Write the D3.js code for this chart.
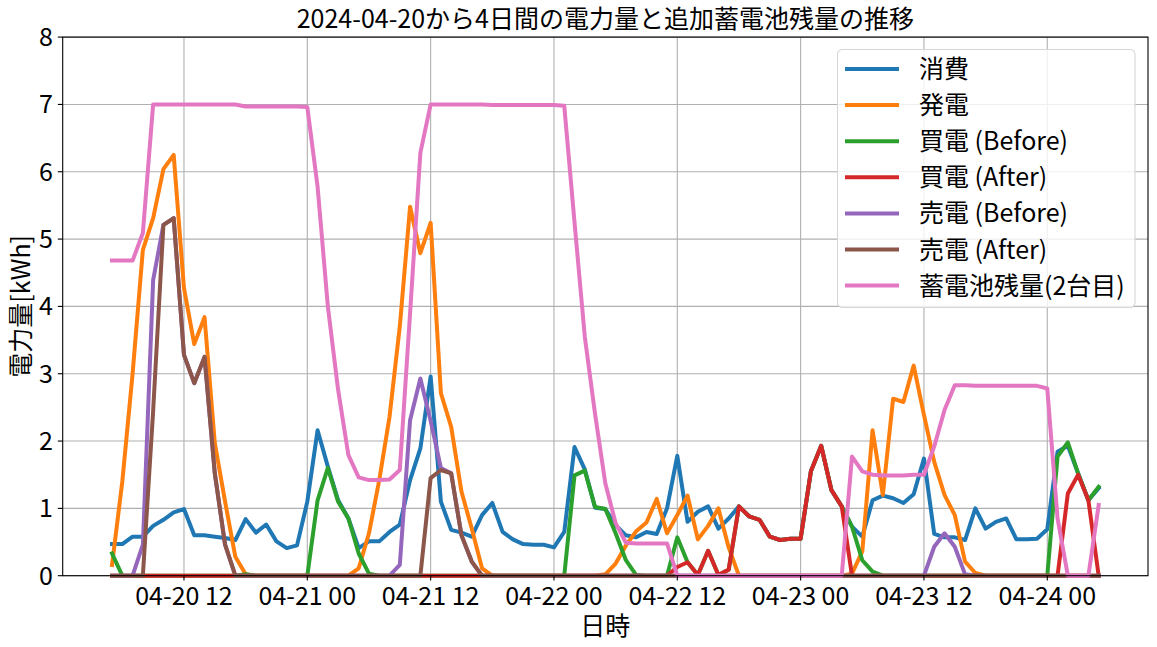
<!DOCTYPE html>
<html>
<head>
<meta charset="utf-8">
<script src="https://cdn.jsdelivr.net/npm/d3@7"></script>
<style>
  html, body { margin: 0; padding: 0; background: #ffffff; }
  svg { display: block; }
  text { font-family: "Noto Sans CJK JP", "Noto Sans", sans-serif; fill: #000; }
</style>
</head>
<body>
<svg id="chart" width="1157" height="647"></svg>
<script>
// ---- data (hourly, starting 2024-04-20 05:00) ----
const startTime = "2024-04-20T05:00:00Z";
const consumption = [
  0.47,0.47,0.58,0.58,0.74,0.83,0.94,0.99,0.60,0.60,
  0.58,0.56,0.53,0.84,0.64,0.76,0.51,0.41,0.45,1.10,
  2.16,1.62,1.12,0.85,0.41,0.51,0.51,0.65,0.76,1.42,
  1.89,2.96,1.10,0.68,0.64,0.58,0.90,1.08,0.65,0.54,
  0.47,0.46,0.46,0.42,0.65,1.91,1.58,1.01,0.99,0.75,
  0.60,0.57,0.65,0.62,1.00,1.78,0.80,0.95,1.03,0.70,
  0.85,1.03,0.88,0.83,0.58,0.53,0.55,0.55,1.55,1.93,
  1.27,1.03,0.73,0.58,1.12,1.19,1.15,1.08,1.21,1.74,
  0.62,0.57,0.57,0.53,1.00,0.70,0.80,0.85,0.54,0.54,
  0.55,0.69,1.84,1.93,1.52,1.12,1.30];
const generation = [
  0.16,1.40,3.00,4.84,5.31,6.04,6.25,4.27,3.44,3.84,
  1.97,1.10,0.28,0.02,0,0,0,0,0,0,
  0,0,0,0,0.11,0.63,1.42,2.36,3.70,5.48,
  4.79,5.24,2.71,2.21,1.25,0.70,0.11,0,0,0,
  0,0,0,0,0,0,0,0,0.02,0.18,
  0.45,0.66,0.79,1.14,0.63,0.90,1.19,0.54,0.74,1.00,
  0.42,0,0,0,0,0,0,0,0,0,
  0,0,0.03,0.36,2.16,1.20,2.63,2.58,3.12,2.39,
  1.69,1.20,0.90,0.21,0.04,0,0,0,0,0,
  0,0,0,0,0,0,0];
const buyBefore = [
  0.33,0,0,0,0,0,0,0,0,0,
  0,0,0,0.02,0,0,0,0,0,0,
  1.12,1.60,1.10,0.85,0.33,0.03,0,0,0,0,
  0,0,0,0,0,0,0,0,0,0,
  0,0,0,0,0,1.49,1.56,1.02,0.99,0.63,
  0.23,0.01,0,0,0,0.57,0.20,0.01,0.37,0.01,
  0.09,1.03,0.88,0.83,0.58,0.53,0.55,0.55,1.55,1.93,
  1.27,1.03,0.73,0.23,0.06,0,0,0,0,0,
  0,0,0,0,0,0,0,0,0,0,
  0,0,1.77,1.98,1.52,1.12,1.32];
const buyAfter = [
  0,0,0,0,0,0,0,0,0,0,
  0,0,0,0,0,0,0,0,0,0,
  0,0,0,0,0,0,0,0,0,0,
  0,0,0,0,0,0,0,0,0,0,
  0,0,0,0,0,0,0,0,0,0,
  0,0,0,0,0,0.13,0.20,0.01,0.37,0.01,
  0.09,1.03,0.88,0.83,0.58,0.53,0.55,0.55,1.55,1.93,
  1.27,1.03,0,0,0,0,0,0,0,0,
  0,0,0,0,0,0,0,0,0,0,
  0,0,0,1.22,1.50,1.12,0];
const sellBefore = [
  0,0,0,0.46,4.39,5.21,5.31,3.28,2.86,3.25,
  1.52,0.46,0,0,0,0,0,0,0,0,
  0,0,0,0,0,0,0,0,0.16,2.31,
  2.93,2.30,1.60,1.52,0.60,0.21,0,0,0,0,
  0,0,0,0,0,0,0,0,0,0,
  0,0,0,0,0,0,0,0,0,0,
  0,0,0,0,0,0,0,0,0,0,
  0,0,0,0,0,0,0,0,0,0,
  0.43,0.63,0.43,0.02,0,0,0,0,0,0,
  0,0,0,0,0,0,0];
const sellAfter = [
  0,0,0,0,2.45,5.21,5.31,3.28,2.86,3.25,
  1.52,0.46,0,0,0,0,0,0,0,0,
  0,0,0,0,0,0,0,0,0,0,
  0,1.45,1.57,1.52,0.60,0.21,0,0,0,0,
  0,0,0,0,0,0,0,0,0,0,
  0,0,0,0,0,0,0,0,0,0,
  0,0,0,0,0,0,0,0,0,0,
  0,0,0,0,0,0,0,0,0,0,
  0,0,0,0,0,0,0,0,0,0,
  0,0,0,0,0,0,0];
const battery = [
  4.68,4.68,4.68,5.09,7.00,7.00,7.00,7.00,7.00,7.00,
  7.00,7.00,7.00,6.97,6.97,6.97,6.97,6.97,6.97,6.96,
  5.78,4.00,2.76,1.79,1.46,1.42,1.42,1.43,1.57,3.90,
  6.28,7.00,7.00,7.00,7.00,7.00,7.00,6.99,6.99,6.99,
  6.99,6.99,6.99,6.99,6.98,5.25,3.55,2.40,1.37,0.78,
  0.49,0.48,0.48,0.48,0.48,0,0,0,0,0,
  0,0,0,0,0,0,0,0,0,0,
  0,0,1.77,1.55,1.50,1.49,1.49,1.49,1.50,1.50,
  1.92,2.46,2.83,2.83,2.82,2.82,2.82,2.82,2.82,2.82,
  2.82,2.78,0.85,0,0,0,1.05];

const seriesNames = ["消費","発電","買電 (Before)","買電 (After)","売電 (Before)","売電 (After)","蓄電池残量(2台目)"];
const seriesValues = [consumption, generation, buyBefore, buyAfter, sellBefore, sellAfter, battery];
const seriesColors = ["#1f77b4","#ff7f0e","#2ca02c","#d62728","#9467bd","#8c564b","#e377c2"];
const yTicks = [0,1,2,3,4,5,6,7,8];
const titleText = "2024-04-20から4日間の電力量と追加蓄電池残量の推移";
const xLabel = "日時";
const yLabel = "電力量[kWh]";

(function draw() {
  const pL = 62.7, pR = 1148, pT = 37.1, pB = 575.7;
  const lw = 4;
  const svg = d3.select("#chart");
  svg.append("rect").attr("width",1157).attr("height",647).attr("fill","#fff");

  const t0 = new Date(startTime);
  const times = consumption.map((_, i) => d3.utcHour.offset(t0, i));
  const tN = times[times.length - 1];
  const span = tN - t0;
  const x = d3.scaleUtc()
    .domain([new Date(+t0 - span * 0.05), new Date(+tN + span * 0.05)])
    .range([pL, pR]);
  const y = d3.scaleLinear().domain([0, 8]).range([pB, pT]);

  const xTicks = d3.utcHour.every(12).range(x.domain()[0], x.domain()[1]);
  const fmt = d3.utcFormat("%m-%d %H");

  // grid
  const grid = svg.append("g");
  grid.selectAll(".gx").data(xTicks).enter().append("line")
    .attr("x1", d => x(d)).attr("x2", d => x(d))
    .attr("y1", pT).attr("y2", pB)
    .attr("stroke", "#b0b0b0").attr("stroke-width", 1.1);
  grid.selectAll(".gy").data(yTicks).enter().append("line")
    .attr("x1", pL).attr("x2", pR)
    .attr("y1", d => y(d)).attr("y2", d => y(d))
    .attr("stroke", "#b0b0b0").attr("stroke-width", 1.1);

  // lines
  const plot = svg.append("g");
  const line = d3.line().x((d, i) => x(times[i])).y(d => y(d));
  seriesValues.forEach((vals, k) => {
    plot.append("path")
      .datum(vals)
      .attr("d", line)
      .attr("fill", "none")
      .attr("stroke", seriesColors[k])
      .attr("stroke-width", lw)
      .attr("stroke-linejoin", "round")
      .attr("stroke-linecap", "square");
  });

  // spines
  svg.append("rect").attr("x", pL).attr("y", pT)
    .attr("width", pR - pL).attr("height", pB - pT)
    .attr("fill", "none").attr("stroke", "#000").attr("stroke-width", 1.1);

  // axes ticks
  const axG = svg.append("g");
  axG.selectAll(".tx").data(xTicks).enter().append("line")
    .attr("x1", d => x(d)).attr("x2", d => x(d))
    .attr("y1", pB).attr("y2", pB + 4.9)
    .attr("stroke", "#000").attr("stroke-width", 1.1);
  axG.selectAll(".lx").data(xTicks).enter().append("text")
    .attr("x", d => x(d)).attr("y", 604.5)
    .attr("text-anchor", "middle").attr("font-size", 25)
    .text(d => fmt(d));
  axG.selectAll(".ty").data(yTicks).enter().append("line")
    .attr("x1", pL - 4.9).attr("x2", pL)
    .attr("y1", d => y(d)).attr("y2", d => y(d))
    .attr("stroke", "#000").attr("stroke-width", 1.1);
  axG.selectAll(".ly").data(yTicks).enter().append("text")
    .attr("x", pL - 9.8).attr("y", d => y(d))
    .attr("dy", "0.36em")
    .attr("text-anchor", "end").attr("font-size", 25)
    .text(d => d);

  // labels
  svg.append("text").attr("x", (pL + pR) / 2).attr("y", 28)
    .attr("text-anchor", "middle").attr("font-size", 25).text(titleText);
  svg.append("text").attr("x", (pL + pR) / 2).attr("y", 635)
    .attr("text-anchor", "middle").attr("font-size", 25).text(xLabel);
  svg.append("text")
    .attr("transform", `translate(30,${(pT + pB) / 2}) rotate(-90)`)
    .attr("text-anchor", "middle").attr("font-size", 25).text(yLabel);

  // legend
  const lg = svg.append("g");
  lg.append("rect").attr("x", 837.5).attr("y", 49.5).attr("width", 297.5).attr("height", 258)
    .attr("rx", 5).attr("ry", 5)
    .attr("fill", "rgba(255,255,255,0.8)").attr("stroke", "#d6d6d6").attr("stroke-width", 1.1);
  seriesNames.forEach((name, k) => {
    const cy = 69 + k * 36.1;
    lg.append("line").attr("x1", 845).attr("x2", 899).attr("y1", cy).attr("y2", cy)
      .attr("stroke", seriesColors[k]).attr("stroke-width", lw);
    lg.append("text").attr("x", 919).attr("y", cy).attr("dy", "0.36em")
      .attr("font-size", 25).text(name);
  });
})();
</script>
</body>
</html>
